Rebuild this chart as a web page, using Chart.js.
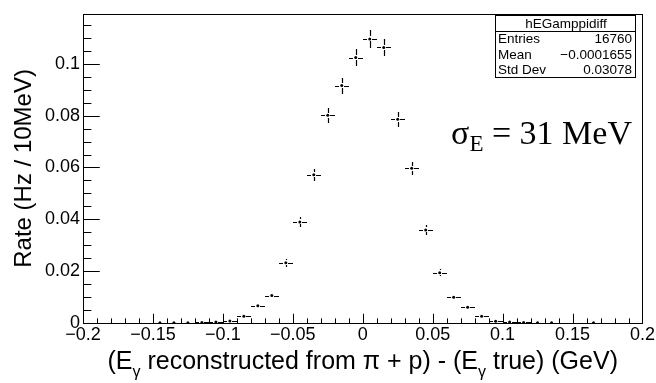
<!DOCTYPE html>
<html><head><meta charset="utf-8">
<script src="https://cdn.jsdelivr.net/npm/chart.js@4.4.0/dist/chart.umd.min.js"></script>
<style>html,body{margin:0;padding:0;background:#fff}canvas{display:block}</style>
</head><body>
<canvas id="c" width="656" height="383"></canvas>
<script>
// ---- data ----
const binCenters = [-0.195,-0.185,-0.175,-0.165,-0.155,-0.145,-0.135,-0.125,-0.115,-0.105,
  -0.095,-0.085,-0.075,-0.065,-0.055,-0.045,-0.035,-0.025,-0.015,-0.005,
  0.005,0.015,0.025,0.035,0.045,0.055,0.065,0.075,0.085,0.095,
  0.105,0.115,0.125,0.135,0.145,0.155,0.165,0.175,0.185,0.195];
const rates = [0,0,0,0,0,0.0001,0.0001,0.0001,0.0002,0.0004,
  0.0008,0.0026,0.0067,0.0106,0.0232,0.0390,0.0572,0.0802,0.0916,0.1024,
  0.1096,0.1063,0.0786,0.0597,0.0359,0.0194,0.0099,0.0061,0.0026,0.0007,
  0.0004,0.0002,0.0001,0.0001,0,0,0.0001,0,0,0];
const rateErrors = [0,0,0,0,0,0.0001,0.0001,0.0001,0.00015,0.0002,
  0.0003,0.0005,0.0008,0.00105,0.00155,0.0020,0.0024,0.0029,0.0031,0.0033,
  0.0034,0.0033,0.0029,0.0025,0.0019,0.0014,0.0010,0.0008,0.0005,0.0003,
  0.0002,0.00015,0.0001,0.0001,0,0,0.0001,0,0,0];
const binHalfWidth = 0.005;
const xTickValues = [-0.2,-0.15,-0.1,-0.05,0,0.05,0.1,0.15,0.2];
const xTickLabels = ["\u22120.2","\u22120.15","\u22120.1","\u22120.05","0","0.05","0.1","0.15","0.2"];
const yTickValues = [0,0.02,0.04,0.06,0.08,0.1];
const yTickLabels = ["0","0.02","0.04","0.06","0.08","0.1"];
const xRange = [-0.2, 0.2];
const yRange = [0, 0.1193];
const statsTitle = "hEGamppidiff";
const statsNames = ["Entries","Mean","Std Dev"];
const statsValues = ["16760","\u22120.0001655","0.03078"];
const yTitle = "Rate (Hz / 10MeV)";

const SANS = "'Liberation Sans', Arial, Helvetica, sans-serif";
const SERIF = "'Liberation Serif', 'Times New Roman', serif";

const points = [];
binCenters.forEach((x, i) => { if (rates[i] > 0) points.push({x: x, y: rates[i], e: rateErrors[i]}); });

function px(v){ return Math.round(v) + 0.5; }

const rootPlugin = {
  id: 'rootStyle',
  afterDatasetsDraw(chart) {
    const ctx = chart.ctx, xs = chart.scales.x, ys = chart.scales.y;
    const gap = 2.5;
    ctx.save();
    ctx.strokeStyle = '#000'; ctx.lineWidth = 1.2;
    ctx.beginPath();
    points.forEach(p => {
      const cx = xs.getPixelForValue(p.x), cy = ys.getPixelForValue(p.y);
      const xl = xs.getPixelForValue(p.x - binHalfWidth), xr = xs.getPixelForValue(p.x + binHalfWidth);
      const yt = ys.getPixelForValue(p.y + p.e), yb = ys.getPixelForValue(Math.max(0, p.y - p.e));
      const ry = px(cy), rx = px(cx);
      ctx.moveTo(Math.round(xl), ry); ctx.lineTo(Math.round(cx - gap), ry);
      ctx.moveTo(Math.round(cx + gap), ry); ctx.lineTo(Math.round(xr), ry);
      if (cy - yt > gap) { ctx.moveTo(rx, Math.round(yt)); ctx.lineTo(rx, Math.round(cy - gap)); }
      if (yb - cy > gap) { ctx.moveTo(rx, Math.round(cy + gap)); ctx.lineTo(rx, Math.round(yb)); }
    });
    ctx.stroke();
    ctx.restore();
  },
  afterDraw(chart) {
    const ctx = chart.ctx, a = chart.chartArea, xs = chart.scales.x, ys = chart.scales.y;
    ctx.save();
    ctx.strokeStyle = '#000'; ctx.lineWidth = 1;
    // frame
    ctx.strokeRect(Math.round(a.left) + 0.5, Math.round(a.top) + 0.5, Math.round(a.right - a.left), Math.round(a.bottom - a.top));
    // ticks
    const h = a.bottom - a.top, w = a.right - a.left;
    const xMaj = 0.03 * h, yMaj = 0.03 * w;
    ctx.beginPath();
    for (let i = 0; i <= 40; i++) {
      const v = xRange[0] + i * 0.01;
      const X = px(xs.getPixelForValue(v));
      const len = (i % 5 === 0) ? xMaj : xMaj / 2;
      ctx.moveTo(X, a.bottom); ctx.lineTo(X, a.bottom - len);
    }
    for (let i = 0; ; i++) {
      const v = i * 0.005;
      if (v > yRange[1]) break;
      const Y = px(ys.getPixelForValue(v));
      const len = (i % 4 === 0) ? yMaj : yMaj / 2;
      ctx.moveTo(a.left, Y); ctx.lineTo(a.left + len, Y);
    }
    ctx.stroke();

    // y title
    ctx.fillStyle = '#000';
    ctx.save();
    ctx.translate(24, (a.top + a.bottom) / 2);
    ctx.rotate(-Math.PI / 2);
    ctx.font = "24px " + SANS;
    ctx.textAlign = 'center'; ctx.textBaseline = 'middle';
    ctx.fillText(yTitle, 0, 0);
    ctx.restore();

    // x title with subscripts
    const big = "25px " + SANS, small = "16px " + SANS;
    const segs = [["(E", big, 0], ["\u03b3", small, 8], [" reconstructed from \u03c0 + p) - (E", big, 0], ["\u03b3", small, 8], [" true) (GeV)", big, 0]];
    let total = 0;
    segs.forEach(s => { ctx.font = s[1]; total += ctx.measureText(s[0]).width; });
    let xx = (a.left + a.right) / 2 - total / 2;
    const base = 369;
    ctx.textAlign = 'left'; ctx.textBaseline = 'alphabetic';
    segs.forEach(s => { ctx.font = s[1]; ctx.fillText(s[0], xx, base + s[2]); xx += ctx.measureText(s[0]).width; });

    // stats box
    const bx0 = 495, bx1 = 635, by0 = 15, by1 = 77, sep = 31;
    ctx.fillStyle = '#fff';
    ctx.fillRect(bx0, by0, bx1 - bx0, by1 - by0);
    ctx.strokeRect(bx0 + 0.5, by0 + 0.5, bx1 - bx0, by1 - by0);
    ctx.beginPath(); ctx.moveTo(bx0, sep + 0.5); ctx.lineTo(bx1, sep + 0.5); ctx.stroke();
    ctx.fillStyle = '#000';
    ctx.font = "13.5px " + SANS;
    ctx.textBaseline = 'middle';
    ctx.textAlign = 'center';
    ctx.fillText(statsTitle, (bx0 + bx1) / 2 + 1, (by0 + sep) / 2 + 1);
    const rowH = (by1 - sep) / 3;
    statsNames.forEach((n, i) => {
      const yy = sep + rowH * (i + 0.5) + 1;
      ctx.textAlign = 'left'; ctx.fillText(n, bx0 + 3, yy);
      ctx.textAlign = 'right'; ctx.fillText(statsValues[i], bx1 - 3, yy);
    });

    // sigma annotation
    const sBig = "34px " + SERIF, sSmall = "23px " + SERIF;
    const sSegs = [["\u03c3", sBig, 0], ["E", sSmall, 7], [" = 31 MeV", sBig, 0]];
    let sw = 0;
    sSegs.forEach(s => { ctx.font = s[1]; sw += ctx.measureText(s[0]).width; });
    let sx = 632 - sw;
    ctx.textAlign = 'left'; ctx.textBaseline = 'alphabetic';
    sSegs.forEach(s => { ctx.font = s[1]; ctx.fillText(s[0], sx, 144 + s[2]); sx += ctx.measureText(s[0]).width; });
    ctx.restore();
  }
};

Chart.defaults.font.family = SANS;
Chart.defaults.color = '#000';

new Chart(document.getElementById('c'), {
  type: 'scatter',
  data: {
    datasets: [{
      data: points,
      pointRadius: 1.5,
      pointHoverRadius: 1.5,
      pointBackgroundColor: '#000',
      pointBorderWidth: 0,
      showLine: false
    }]
  },
  options: {
    responsive: false,
    animation: false,
    devicePixelRatio: 1,
    layout: { padding: { left: 0, top: 9, right: 13, bottom: 0 } },
    plugins: { legend: { display: false }, tooltip: { enabled: false } },
    scales: {
      x: {
        type: 'linear', min: xRange[0], max: xRange[1],
        grid: { display: false, drawTicks: false },
        border: { display: false },
        afterBuildTicks: s => { s.ticks = xTickValues.map(v => ({ value: v })); },
        afterFit: s => { s.height = 60; },
        ticks: {
          autoSkip: false, maxRotation: 0, padding: 1,
          font: { size: 18, lineHeight: 1.2 }, color: '#000',
          callback: (v, i) => xTickLabels[i]
        }
      },
      y: {
        type: 'linear', min: yRange[0], max: yRange[1],
        grid: { display: false, drawTicks: false },
        border: { display: false },
        afterBuildTicks: s => { s.ticks = yTickValues.map(v => ({ value: v })); },
        afterFit: s => { s.width = 83; },
        ticks: {
          autoSkip: false, padding: 3,
          font: { size: 18, lineHeight: 1.2 }, color: '#000',
          callback: (v, i) => yTickLabels[i]
        }
      }
    }
  },
  plugins: [rootPlugin]
});
</script>
</body></html>
